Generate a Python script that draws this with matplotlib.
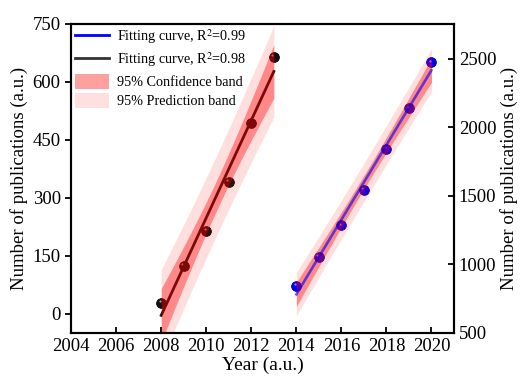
import numpy as np
import matplotlib
matplotlib.use("Agg")
import matplotlib.pyplot as plt
from matplotlib.patches import Patch
from matplotlib.lines import Line2D
from matplotlib.transforms import ScaledTranslation

plt.rcParams["font.family"] = ["Liberation Serif", "DejaVu Serif"]
plt.rcParams["mathtext.fontset"] = "stix"

# data
years_a = [2008, 2009, 2010, 2011, 2012, 2013]
pubs_a = [28, 124, 215, 341, 494, 665]
years_b = [2014, 2015, 2016, 2017, 2018, 2019, 2020]
pubs_b = [843, 1055, 1288, 1544, 1843, 2142, 2478]
T_95 = {4: 2.776, 5: 2.571}


def linfit_bands(x, y):
    x = np.asarray(x, float)
    y = np.asarray(y, float)
    n = len(x)
    b, a = np.polyfit(x, y, 1)
    xs = np.linspace(x.min(), x.max(), 100)
    ys = a + b * xs
    s = np.sqrt(np.sum((y - (a + b * x)) ** 2) / (n - 2))
    sxx = np.sum((x - x.mean()) ** 2)
    t = T_95[n - 2]
    conf = t * s * np.sqrt(1 / n + (xs - x.mean()) ** 2 / sxx)
    pred = t * s * np.sqrt(1 + 1 / n + (xs - x.mean()) ** 2 / sxx)
    return xs, ys, conf, pred


def draw_series(ax, x, y, color, edge, line_on_top):
    xs, ys, conf, pred = linfit_bands(x, y)
    ax.plot(x, y, "o", color=color, ms=7, mec=edge, mew=0.6, zorder=2)
    shift = ScaledTranslation(-1.0 / 72, 1.0 / 72, ax.figure.dpi_scale_trans)
    ax.plot(x, y, "o", color="white", ms=1.6, mew=0, alpha=0.6, zorder=2,
            transform=ax.transData + shift)
    ax.fill_between(xs, ys - pred, ys + pred, color="#ff0000", alpha=0.13, lw=0, zorder=3)
    ax.fill_between(xs, ys - conf, ys + conf, color="#ff0000", alpha=0.38, lw=0, zorder=3)
    if line_on_top:
        ax.plot(xs, ys, color=color, lw=1.9, alpha=0.62, zorder=4)
    else:
        ax.plot(xs, ys, color=color, lw=2, zorder=2)


fig = plt.figure(figsize=(5.23, 3.8), dpi=100)
ax = fig.add_axes([0.136, 0.124, 0.732, 0.813])
ax2 = ax.twinx()

draw_series(ax, years_a, pubs_a, "#111111", "black", False)
draw_series(ax2, years_b, pubs_b, "#0000ff", "#0000aa", True)

ax.set_xlim(2004, 2021)
ax.set_ylim(-50, 750)
ax2.set_ylim(500, 2755)
ax.set_xticks(np.arange(2004, 2021, 2))
ax.set_yticks(np.arange(0, 751, 150))
ax2.set_yticks(np.arange(500, 2501, 500))

ax.set_xlabel("Year (a.u.)", fontsize=14, labelpad=1)
ax.set_ylabel("Number of publications (a.u.)", fontsize=13.5, labelpad=3)
ax2.set_ylabel("Number of publications (a.u.)", fontsize=13.5, labelpad=3)

ax.tick_params(axis="x", direction="in", length=4, width=1.3, labelsize=13.5, pad=4)
ax.tick_params(axis="y", direction="out", length=4, width=1.3, labelsize=13.5)
ax2.tick_params(axis="y", direction="in", length=4, width=1.3, labelsize=13.5)
for a in (ax, ax2):
    for sp in a.spines.values():
        sp.set_linewidth(1.5)

handles = [
    Line2D([], [], color="#0000ff", lw=2),
    Line2D([], [], color="#333333", lw=2),
    Patch(facecolor="#ffa0a0", edgecolor="none"),
    Patch(facecolor="#ffe0e0", edgecolor="none"),
]
labels = [
    "Fitting curve, R$^2$=0.99",
    "Fitting curve, R$^2$=0.98",
    "95% Confidence band",
    "95% Prediction band",
]
ax2.legend(handles, labels, loc="upper left", frameon=False, fontsize=10.2,
           handlelength=2.4, handleheight=1.25, borderaxespad=0.0, borderpad=0.25,
           labelspacing=0.3, handletextpad=0.6)

fig.savefig("out.png", dpi=100)
